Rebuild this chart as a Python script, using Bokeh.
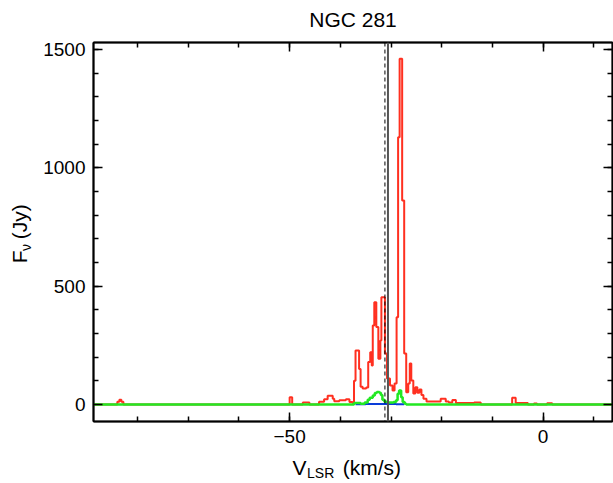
import math
from bokeh.plotting import figure
from bokeh.layouts import column, row
from bokeh.models import Range1d, LinearAxis, FixedTicker, Span
from bokeh.core.properties import value
from bokeh.embed import file_html
from bokeh.resources import INLINE

# ---------------- data ----------------
title_text = "NGC 281"

# red spectrum: channel left edges (km/s) and flux (Jy)
red_v = [-88.7, -84.0, -83.6, -83.2, -82.8, -50.0, -49.5, -47.4, -46.1, -44.2,
         -43.2, -42.5, -41.5, -41.2, -40.2, -38.9, -38.2, -37.6, -37.3, -37.0,
         -36.3, -36.0, -35.6, -34.9, -34.5, -34.1, -33.8, -33.6, -33.3, -32.9,
         -32.5, -32.1, -31.9, -31.2, -30.8, -30.2, -29.7, -29.3, -28.9, -28.6,
         -28.3, -27.8, -27.4, -27.0, -26.6, -26.3, -26.0, -25.6, -25.2, -24.8,
         -24.4, -24.0, -23.6, -23.0, -20.2, -19.2, -18.6, -17.9, -17.2, -13.6,
         -12.3, -6.1, -5.4, -3.0, -1.8, -1.2, 0.8, 1.8, 13.7]
red_f = [0, 12, 20, 12, 0, 30, 0, 8, 0, 12,
         22, 37, 24, 14, 18, 22, 10, 6, 100, 228,
         150, 75, 68, 72, 179, 221, 165, 334, 432, 327,
         193, 270, 453, 215, 110, 80, 59, 89, 369, 1130,
         1461, 862, 215, 52, 89, 173, 101, 46, 73, 50,
         63, 40, 24, 13, 24, 13, 8, 19, 6, 8,
         0, 28, 6, 0, 4, 0, 5, 0, 0]

# green spectrum
green_v = [-88.7, -37.3, -36.0, -35.2, -34.6, -34.2, -33.6, -33.2, -32.8, -32.3,
           -32.0, -31.7, -31.3, -30.5, -29.5, -29.0, -28.7, -28.4, -28.0, -27.7,
           -27.3, -27.0, 13.7]
green_f = [0, 6, 3, 8, 20, 28, 38, 48, 53, 50,
           40, 20, 12, 8, 10, 18, 45, 59, 30, 10,
           3, 0, 0]

# blue spectrum
blue_v = [-37.0, -35.0, -33.0, -31.0, -29.0, -27.4]
blue_f = [1, 2, 2, 2, 1, 1]

# marker velocities
v_dashed = -31.2
v_solid = -30.6

x_major = [-50, 0]
x_minor = [-80, -70, -60, -50, -40, -30, -20, -10, 0, 10]
y_major = [0, 500, 1000, 1500]
y_minor = [100, 200, 300, 400, 500, 600, 700, 800, 900, 1000, 1100, 1200,
           1300, 1400, 1500]

# ---------------- layout geometry (page pixels) ----------------
X0, X1 = -88.7, 13.7
Y0, Y1 = -72, 1530
PAGE_W, PAGE_H = 613, 483
TITLE_H = 36          # strip above main plot
YLAB_W = 34           # strip left of main plot
MAIN_H = 412          # main figure height
XLAB_H = PAGE_H - TITLE_H - MAIN_H
FRAME_L, FRAME_R, FRAME_T, FRAME_B = 93, 612, 42, 421
FONT = "Liberation Sans"
TICK_FS = "19px"
LAB_FS = 21
SUB_FS = 14

main_w = PAGE_W - YLAB_W
p = figure(width=main_w, height=MAIN_H, output_backend="svg",
           toolbar_location=None,
           x_range=Range1d(X0, X1), y_range=Range1d(Y0, Y1),
           min_border_left=FRAME_L - YLAB_W,
           min_border_right=PAGE_W - FRAME_R,
           min_border_top=FRAME_T - TITLE_H,
           min_border_bottom=TITLE_H + MAIN_H - FRAME_B,
           background_fill_color="white", border_fill_color="white")
p.xgrid.visible = False
p.ygrid.visible = False
p.outline_line_color = "black"
p.outline_line_width = 1.5


def style_axis(ax, ticks, minor, show_labels):
    ax.ticker = FixedTicker(ticks=ticks, minor_ticks=minor)
    ax.major_tick_in = 9
    ax.major_tick_out = 0
    ax.minor_tick_in = 5
    ax.minor_tick_out = 0
    ax.major_tick_line_width = 1.5
    ax.minor_tick_line_width = 1.5
    ax.major_tick_line_color = "black"
    ax.minor_tick_line_color = "black"
    ax.axis_line_width = 2
    ax.axis_line_color = "black"
    ax.axis_label = None
    if show_labels:
        ax.major_label_text_font = FONT
        ax.major_label_text_font_size = TICK_FS
        ax.major_label_text_color = "black"
        ax.major_label_standoff = 8
    else:
        ax.major_label_text_font_size = "0px"
        ax.major_label_standoff = 0
        ax.major_label_text_alpha = 0


style_axis(p.xaxis[0], x_major, x_minor, True)
p.xaxis[0].major_label_overrides = {-50: "\u221250", 0: "0"}
style_axis(p.yaxis[0], y_major, y_minor, True)

top = LinearAxis()
style_axis(top, x_major, x_minor, False)
p.add_layout(top, "above")
right = LinearAxis()
style_axis(right, y_major, y_minor, False)
p.add_layout(right, "right")

# spectra
p.step(red_v, red_f, mode="after", line_color="#ff3020", line_width=2)
p.step(blue_v, blue_f, mode="after", line_color="#0a3cd8", line_width=2)
p.step(green_v, green_f, mode="after", line_color="#22e822", line_width=2.5)

# vertical markers
p.add_layout(Span(location=v_solid, dimension="height", line_color="#555555",
                  line_width=2))
p.add_layout(Span(location=v_dashed, dimension="height", line_color="black",
                  line_width=1, line_dash="4 3"))


def text_strip(w, h):
    f = figure(width=w, height=h, output_backend="svg", toolbar_location=None,
               x_range=Range1d(0, w), y_range=Range1d(0, h),
               x_axis_type=None, y_axis_type=None, min_border=0,
               outline_line_color=None, background_fill_color="white",
               border_fill_color="white")
    f.xgrid.visible = False
    f.ygrid.visible = False
    return f


def put(fig, x, y, txt, size, angle=0.0):
    fig.text(x=[x], y=[y], text=[txt], text_font=value(FONT),
             text_font_size=value(f"{size}px"), text_align="left",
             text_baseline="middle", angle=angle, text_color="black")


frame_cx = (FRAME_L + FRAME_R) / 2
frame_cy = (FRAME_T + FRAME_B) / 2

# title strip
t = text_strip(PAGE_W, TITLE_H)
t.text(x=[frame_cx], y=[TITLE_H - 19], text=[title_text],
       text_font=value(FONT), text_font_size=value(f"{LAB_FS}px"),
       text_align="center", text_baseline="middle", text_color="black")

# x label strip: V_LSR (km/s)
xl = text_strip(PAGE_W, XLAB_H)
xl_base = PAGE_H - 467          # page y 467 -> strip y
w_v = 0.667 * LAB_FS
w_lsr = 1.945 * SUB_FS
w_rest = 2.777 * LAB_FS
gap = 9
xs = 292
put(xl, xs, xl_base, "V", LAB_FS)
put(xl, xs + w_v + 0.5, xl_base - 5, "LSR", SUB_FS)
put(xl, xs + w_v + w_lsr + gap, xl_base, "(km/s)", LAB_FS)

# y label strip: F_nu (Jy)
yl = text_strip(YLAB_W, MAIN_H)
ang = math.pi / 2
page_to_strip = TITLE_H + MAIN_H   # strip y = this - page y
w_f = 0.611 * LAB_FS
w_nu = 0.52 * SUB_FS
w_jy = 1.666 * LAB_FS
ys = 276
put(yl, 19, page_to_strip - ys, "F", LAB_FS, ang)
put(yl, 25, page_to_strip - (ys - w_f - 0.5), "\u03bd", SUB_FS, ang)
put(yl, 19, page_to_strip - (ys - w_f - w_nu - 6), "(Jy)", LAB_FS, ang)

layout = column(t, row(yl, p), xl)
open("out.html", "w").write(file_html(layout, INLINE))
